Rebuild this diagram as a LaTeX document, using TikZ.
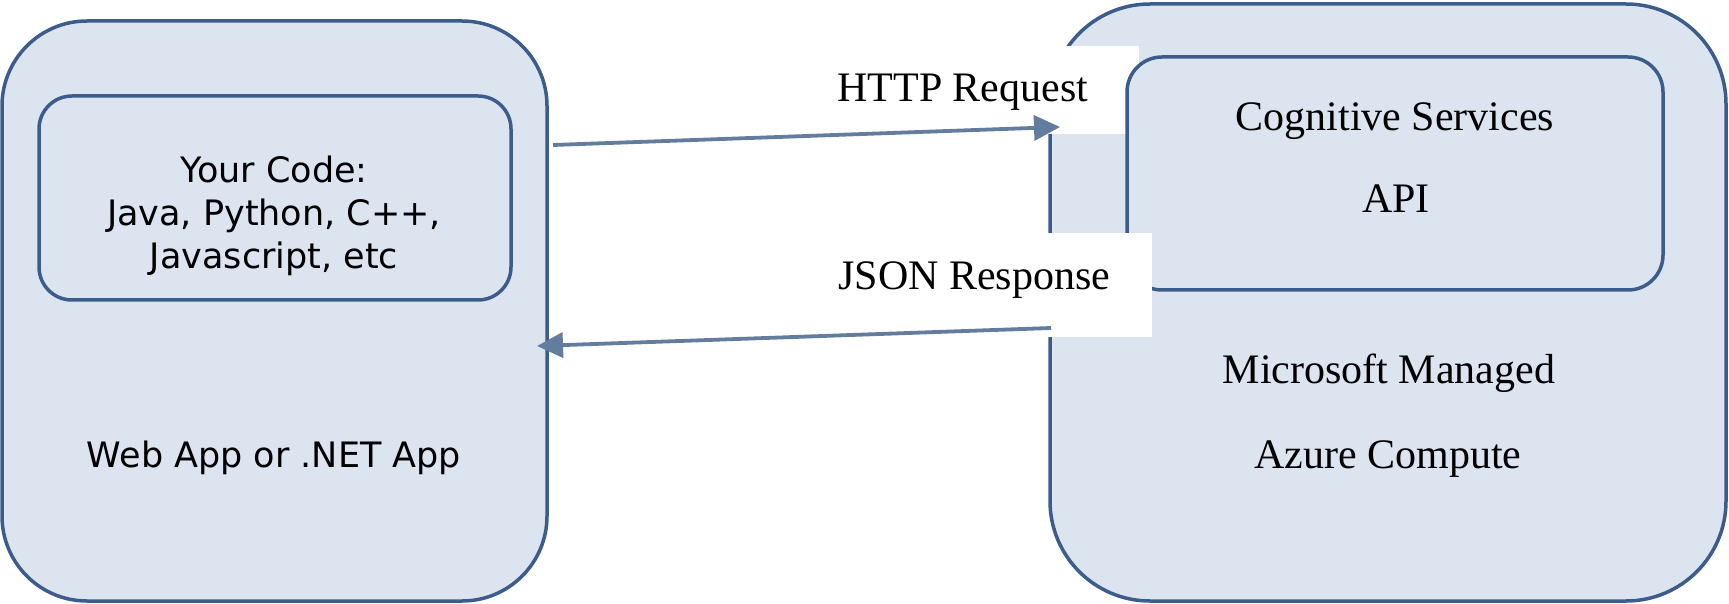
\documentclass[tikz,border=0pt]{standalone}
\usepackage{fontspec}
\setmainfont{Liberation Serif}
\newfontfamily\vfont{DejaVu Sans}
\usetikzlibrary{arrows.meta}
\definecolor{boxfill}{RGB}{220,228,240}
\definecolor{boxline}{RGB}{60,92,140}
\definecolor{arrowcol}{RGB}{100,124,158}
\tikzset{
  outerbox/.style={draw=boxline, fill=boxfill, line width=1.75pt, inner sep=0pt},
  innerbox/.style={draw=boxline, fill=boxfill, line width=1.75pt, inner sep=0pt, rounded corners=17pt},
  whitebox/.style={fill=white, draw=none, inner sep=0pt},
  sanstext/.style={font=\vfont\fontsize{17.5pt}{21.5pt}\selectfont, inner sep=0pt, anchor=base},
  seriftext/.style={font=\fontsize{21pt}{25pt}\selectfont, inner sep=0pt, anchor=base},
  flow/.style={draw=arrowcol, line width=1.9pt, -{Triangle[length=13pt,width=12.5pt]}}
}
\begin{document}
\begin{tikzpicture}[x=0.5pt,y=-0.5pt]
\useasboundingbox (0,0) rectangle (1729,604);
% left box
\node[outerbox, rounded corners=42.5pt, minimum width=272.5pt, minimum height=290pt] (app) at (274.5,311) {};
\node[innerbox, rounded corners=16.5pt, minimum width=236pt, minimum height=102pt] (code) at (275,198) {};
% right box
\node[outerbox, rounded corners=50pt, minimum width=338pt, minimum height=298.5pt] (azure) at (1388,302.5) {};
\node[whitebox, minimum width=189.5pt, minimum height=44pt] (reqbg) at (949.5,90) {};
\node[innerbox, rounded corners=17.5pt, minimum width=268pt, minimum height=116.5pt] (api) at (1395,173.5) {};
\node[whitebox, minimum width=196pt, minimum height=52pt] (resbg) at (956,285) {};
% texts
\node[sanstext] (t1) at (274,183) {Your Code:};
\node[sanstext] (t2) at (274,226) {Java, Python, C++,};
\node[sanstext] (t3) at (274,269) {Javascript, etc};
\node[sanstext] (t4) at (274,467) {Web App or .NET App};
\node[seriftext] (t5) at (1395,131) {Cognitive Services};
\node[seriftext] (t6) at (1396,213) {API};
\node[seriftext] (t7) at (1389,383) {Microsoft Managed};
\node[seriftext] (t8) at (1388,468) {Azure Compute};
\node[seriftext, anchor=base west] (req) at (837,102) {HTTP Request};
\node[seriftext, anchor=base west] (res) at (838,290) {JSON Response};
% arrows
\coordinate (a1s) at (553,145);
\coordinate (a1e) at (1060,127);
\coordinate (a2s) at (1051,328);
\coordinate (a2e) at (537,346);
\draw[flow] (a1s) -- (a1e);
\draw[flow] (a2s) -- (a2e);
\end{tikzpicture}
\end{document}
